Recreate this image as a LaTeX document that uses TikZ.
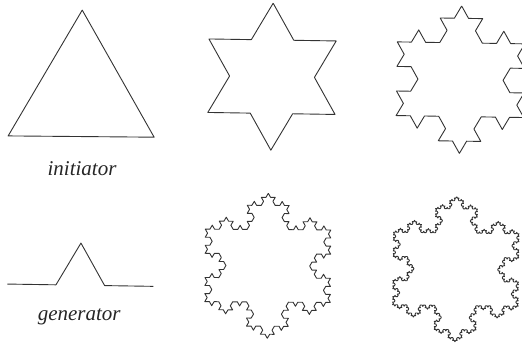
\documentclass[tikz,border=0pt]{standalone}
\usepackage{fontspec}
\setmainfont{Liberation Serif}
\usetikzlibrary{decorations.fractals}
\begin{document}
\begin{tikzpicture}[x=1pt,y=-1pt,
  koch/.style={draw=black!80, line width=0.9pt, line join=round, decoration=Koch snowflake},
  label/.style={font=\fontsize{21}{24}\selectfont\itshape, text=black!85, anchor=base, inner sep=0pt}]
\useasboundingbox (0,0) rectangle (522,343);
\fill[white] (0,0) rectangle (522,343);
\clip (0,0) rectangle (522,343);

% initiator (triangle)
\begin{scope}[shift={(81.5,94.4)}, rotate=-0.5]
  \def\R{84.3}
  \draw[koch] (0,-\R) -- (0.866*\R,0.5*\R) -- (-0.866*\R,0.5*\R) -- cycle;
\end{scope}
\node[label] (init) at (82,175) {initiator};

% generator
\begin{scope}[shift={(80.3,285.2)}, rotate=-0.9]
  \draw[koch] decorate{(-73,0) -- (73,0)};
\end{scope}
\node[label] (gen) at (79.2,320) {generator};

% level 1
\begin{scope}[shift={(272,76.7)}, rotate=-0.9]
  \def\R{73.5}
  \draw[koch] decorate{(0,-\R) -- (0.866*\R,0.5*\R) -- (-0.866*\R,0.5*\R) -- cycle};
\end{scope}

% level 2
\begin{scope}[shift={(460.5,79.7)}, rotate=-0.9]
  \def\R{73.7}
  \draw[koch] decorate{decorate{(0,-\R) -- (0.866*\R,0.5*\R) -- (-0.866*\R,0.5*\R) -- cycle}};
\end{scope}

% level 3
\begin{scope}[shift={(267.8,265.8)}, rotate=-0.4]
  \def\R{72.5}
  \draw[koch] decorate{decorate{decorate{(0,-\R) -- (0.866*\R,0.5*\R) -- (-0.866*\R,0.5*\R) -- cycle}}};
\end{scope}

% level 4
\begin{scope}[shift={(455.8,269.2)}, rotate=-0.7]
  \def\R{72.5}
  \draw[koch] decorate{decorate{decorate{decorate{(0,-\R) -- (0.866*\R,0.5*\R) -- (-0.866*\R,0.5*\R) -- cycle}}}};
\end{scope}
\end{tikzpicture}
\end{document}
